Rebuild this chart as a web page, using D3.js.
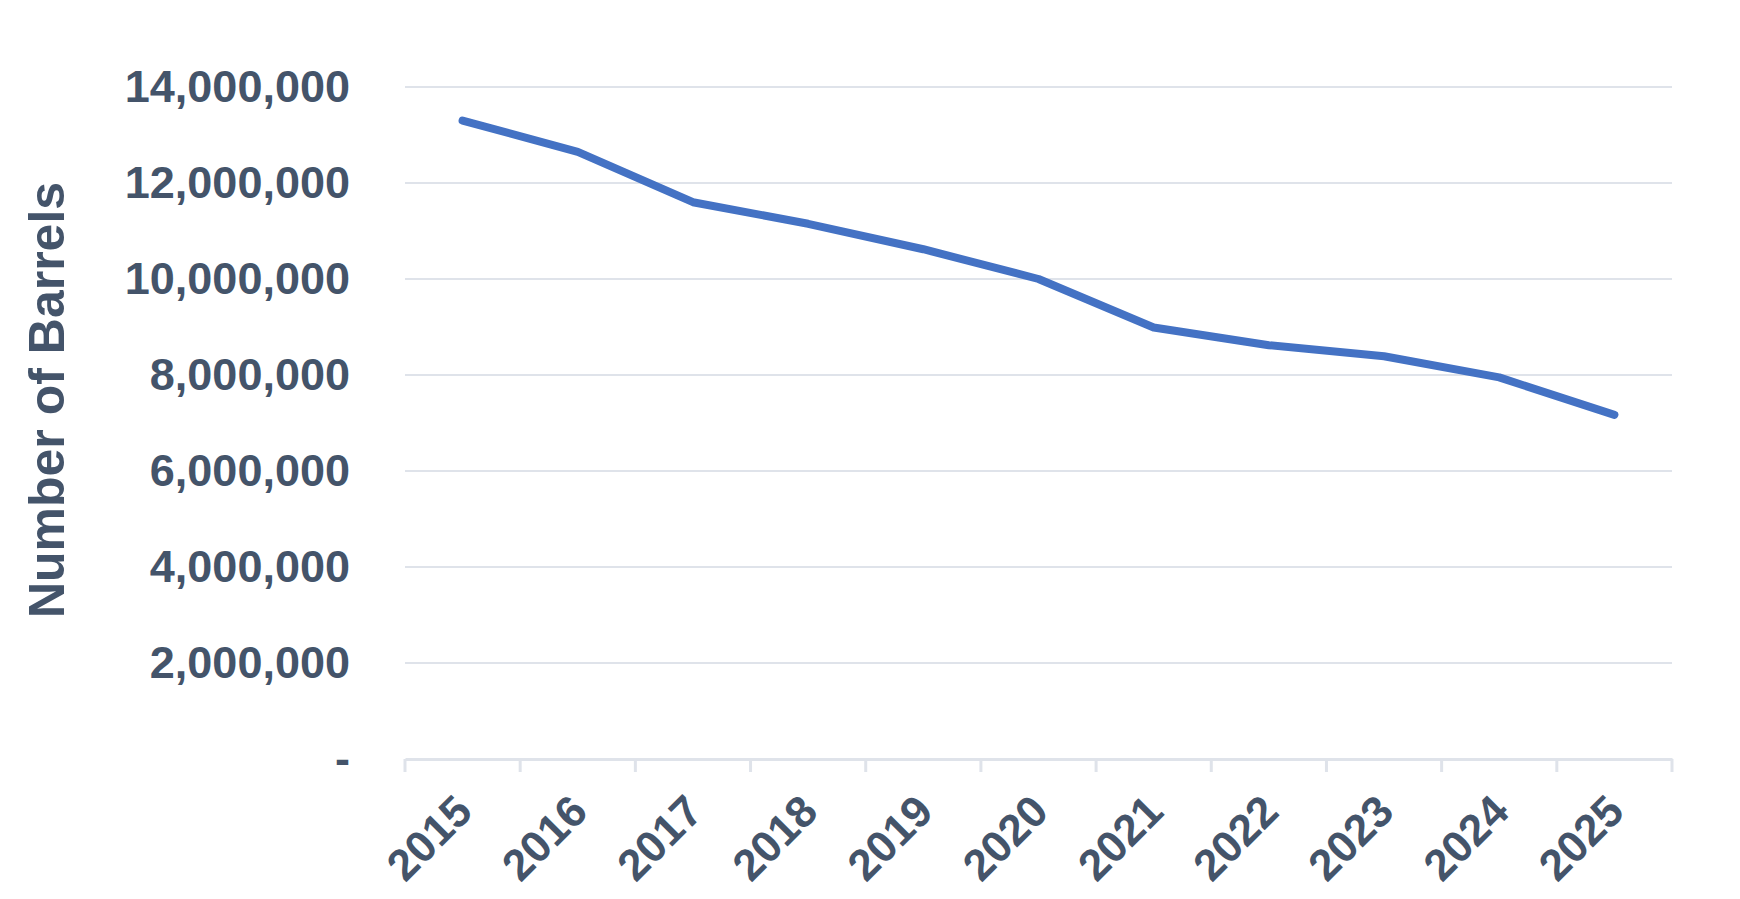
<!DOCTYPE html><html><head><script src="https://cdn.jsdelivr.net/npm/d3@7"></script>
<style>body{margin:0;background:#fff}</style></head><body><svg id="c" width="1740" height="899"></svg>
<script>
const years=["2015","2016","2017","2018","2019","2020","2021","2022","2023","2024","2025"];
const barrels=[13300000,12650000,11600000,11150000,10620000,10000000,8990000,8620000,8390000,7950000,7170000];
const yTicks=[0,2000000,4000000,6000000,8000000,10000000,12000000,14000000];
const svg=d3.select("#c"),L=405,R=1672,T=87,B=759,col="#44546A",font="Liberation Sans, Arial, sans-serif";
const x=d3.scaleBand().domain(years).range([L,R]);
const y=d3.scaleLinear().domain([0,14000000]).range([B,T]);
svg.append("g").selectAll("line").data(yTicks.slice(1)).join("line")
 .attr("x1",L).attr("x2",R).attr("y1",d=>y(d)).attr("y2",d=>y(d)).attr("stroke","#dfe3ea").attr("stroke-width",2);
const ya=svg.append("g").attr("transform",`translate(${L},0)`).call(d3.axisLeft(y).tickValues(yTicks).tickSize(0).tickPadding(55).tickFormat(d=>d===0?"-":d3.format(",")(d)));
ya.select(".domain").remove();
ya.selectAll("text").attr("font-family",font).attr("font-weight","bold").attr("font-size",45).attr("fill",col);
const xa=svg.append("g").attr("transform",`translate(0,${B})`).call(d3.axisBottom(x).tickSize(0).tickFormat(""));
xa.select(".domain").attr("stroke","#dfe3ea").attr("stroke-width",3);
svg.append("g").selectAll("line").data(years.concat(["end"])).join("line")
 .attr("x1",(d,i)=>L+i*x.step()).attr("x2",(d,i)=>L+i*x.step()).attr("y1",B).attr("y2",B+13).attr("stroke","#dfe3ea").attr("stroke-width",3);
svg.append("g").selectAll("text").data(years).join("text")
 .attr("transform",d=>`translate(${x(d)+x.bandwidth()/2+12},${B+55}) rotate(-45)`).attr("text-anchor","end")
 .attr("font-family",font).attr("font-weight","bold").attr("font-size",44).attr("fill",col).text(d=>d);
svg.append("path").datum(barrels).attr("fill","none").attr("stroke","#4472C4").attr("stroke-width",8).attr("stroke-linecap","round").attr("stroke-linejoin","round")
 .attr("d",d3.line().x((d,i)=>x(years[i])+x.bandwidth()/2).y(d=>y(d)));
svg.append("text").attr("transform","translate(64,400) rotate(-90)").attr("text-anchor","middle")
 .attr("font-family",font).attr("font-weight","bold").attr("font-size",50).attr("fill",col).text("Number of Barrels");
</script></body></html>
